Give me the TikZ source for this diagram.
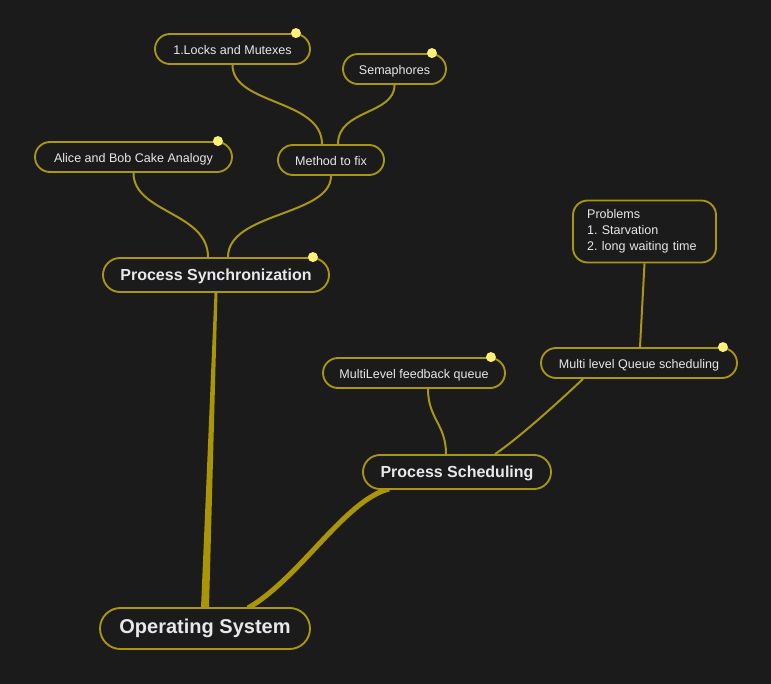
\documentclass[tikz,border=0pt]{standalone}
\usepackage{fontspec}
\setmainfont{Liberation Sans}
\usetikzlibrary{calc}

\definecolor{bgc}{RGB}{27,27,27}
\definecolor{framec}{RGB}{168,150,20}
\definecolor{branchc}{RGB}{170,148,8}
\definecolor{textc}{RGB}{232,232,236}
\definecolor{dotc}{RGB}{255,240,120}

\pgfdeclarelayer{back}
\pgfsetlayers{back,main}

\tikzset{
  topic/.style={draw=framec, line width=1.4pt, fill=bgc, text=textc,
    inner sep=0pt, font=\fontsize{9.4}{11}\selectfont,
    text height=0.9em, text depth=0.1em,
    rounded corners=11.25pt, minimum height=22.5pt},
  maintopic/.style={topic, font=\bfseries\fontsize{12}{14}\selectfont,
    rounded corners=12.75pt, minimum height=25.5pt},
  roottopic/.style={topic, font=\bfseries\fontsize{15}{18}\selectfont,
    rounded corners=15.4pt, minimum height=30.8pt},
  notetopic/.style={topic, align=left, text width=86pt,
    text height=, text depth=, font=\fontsize{9.4}{12}\selectfont\frenchspacing,
    rounded corners=11pt, minimum height=46.5pt},
  branch/.style={draw=framec, line width=1.5pt},
  dot/.style={fill=dotc}
}

\begin{document}
\begin{tikzpicture}[x=0.75pt,y=-0.75pt]
        % Background
        \begin{pgfonlayer}{back}
            \fill[bgc] (0,0) rectangle (771,684);
        \end{pgfonlayer}
        \useasboundingbox (0,0) rectangle (771,684);

        % Nodes
        \node[roottopic, minimum width=157.5pt] (os) at (205,628.5) {Operating System};
        \node[maintopic, minimum width=141pt] (sched) at (457,472) {Process Scheduling};
        \node[maintopic, minimum width=169.5pt] (sync) at (216,275) {Process Synchronization};
        \node[topic, minimum width=147.75pt] (alice) at (133.5,157) {Alice and Bob Cake Analogy};
        \node[topic, minimum width=79.5pt] (method) at (331,160) {Method to fix};
        \node[topic, minimum width=116.25pt] (locks) at (232.5,49) {1.Locks and Mutexes};
        \node[topic, minimum width=77.25pt] (sema) at (394.5,69) {Semaphores};
        \node[topic, minimum width=147pt] (mlqs) at (639,363) {Multi level Queue scheduling};
        \node[topic, minimum width=136.5pt] (mlfq) at (414,373) {MultiLevel feedback queue};
        \node[notetopic, minimum width=107.25pt] (probs) at (644.5,231.5)
              {Problems\\1. Starvation\\2. long waiting time};

        \begin{pgfonlayer}{back}
        % Thick branches from the root
        \fill[branchc] ($(os.north)+(-4,1)$) -- ($(sync.south)+(-1.5,0)$)
            -- ($(sync.south)+(1.5,0)$) -- ($(os.north)+(4,1)$) -- cycle;
        \draw[draw=branchc, line width=3.8pt] ($(os.north)+(43,1)$)
            .. controls (300,578) and (345,500) .. ($(sched.south west)+(27,-1)$);

        % Branches of Process Synchronization
        \draw[branch] ($(sync.north)+(-8,0)$) .. controls +(0,-45) and +(0,40) .. (alice.south);
        \draw[branch] ($(sync.north)+(12,0)$) .. controls +(0,-45) and +(0,40) .. (method.south);
        \draw[branch] ($(method.north)+(-9,0)$) .. controls +(0,-45) and +(0,40) .. (locks.south);
        \draw[branch] ($(method.north)+(7,0)$) .. controls +(0,-35) and +(0,30) .. (sema.south);

        % Branches of Process Scheduling
        \draw[branch] ($(sched.north)+(-11,0)$) .. controls +(0,-30) and +(0,30) .. ($(mlfq.south)+(14,0)$);
        \draw[branch] ($(sched.north)+(38,0)$) .. controls +(30,-20) and +(0,0) .. ($(mlqs.south)+(-56,0)$);
        \draw[branch] ($(mlqs.north)+(1,0)$) -- (probs.south);
        \end{pgfonlayer}

        % Marker dots
        \fill[dot] ($(sync.north east)+(-17,0)$) circle (5);
        \fill[dot] ($(alice.north east)+(-15,0)$) circle (5);
        \fill[dot] ($(locks.north east)+(-15,0)$) circle (5);
        \fill[dot] ($(sema.north east)+(-15,0)$) circle (5);
        \fill[dot] ($(mlqs.north east)+(-15,0)$) circle (5);
        \fill[dot] ($(mlfq.north east)+(-15,0)$) circle (5);
    \end{tikzpicture}
\end{document}
